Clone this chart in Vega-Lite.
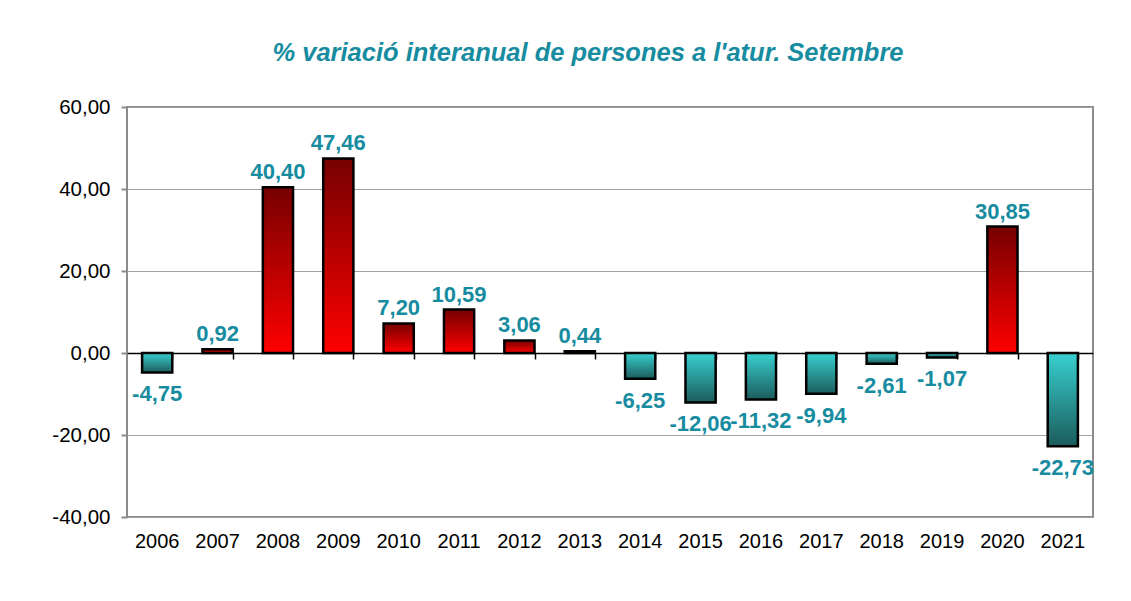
{
  "$schema": "https://vega.github.io/schema/vega-lite/v6.json",
  "width": 966,
  "height": 410,
  "autosize": {"type": "none"},
  "padding": {"left": 127, "top": 107, "right": 38, "bottom": 84},
  "background": "white",
  "title": {
    "text": "% variació interanual de persones a l'atur. Setembre",
    "font": "Liberation Sans",
    "fontSize": 25.5,
    "fontWeight": "bold",
    "fontStyle": "italic",
    "color": "#178CA0",
    "anchor": "middle",
    "dx": -22,
    "offset": 31
  },
  "config": {
    "locale": {
      "number": {"decimal": ",", "thousands": ".", "grouping": [3], "currency": ["", " €"], "minus": "-"}
    },
    "view": {"stroke": "#8c8c8c", "strokeWidth": 2},
    "font": "Liberation Sans"
  },
  "data": {
    "values": [
      {"year": "2006", "v": -4.75},
      {"year": "2007", "v": 0.92},
      {"year": "2008", "v": 40.40},
      {"year": "2009", "v": 47.46},
      {"year": "2010", "v": 7.20},
      {"year": "2011", "v": 10.59},
      {"year": "2012", "v": 3.06},
      {"year": "2013", "v": 0.44},
      {"year": "2014", "v": -6.25},
      {"year": "2015", "v": -12.06},
      {"year": "2016", "v": -11.32},
      {"year": "2017", "v": -9.94},
      {"year": "2018", "v": -2.61},
      {"year": "2019", "v": -1.07},
      {"year": "2020", "v": 30.85},
      {"year": "2021", "v": -22.73}
    ]
  },
  "encoding": {
    "x": {
      "field": "year",
      "type": "ordinal",
      "scale": {"paddingInner": 0.5, "paddingOuter": 0.25}
    },
    "y": {
      "field": "v",
      "type": "quantitative",
      "scale": {"domain": [-40, 60], "nice": false, "zero": false}
    }
  },
  "layer": [
    {
      "mark": {"type": "bar", "stroke": "black", "strokeWidth": 2.5, "opacity": 0},
      "encoding": {
        "x": {
          "field": "year", "type": "ordinal",
          "axis": {
            "title": null, "orient": "bottom", "domain": false, "ticks": false,
            "labelFontSize": 20, "labelColor": "black", "labelPadding": 14,
            "labelAngle": 0, "labelFont": "Liberation Sans"
          }
        },
        "y": {
          "field": "v", "type": "quantitative",
          "axis": {
            "title": null, "values": [-40, -20, 0, 20, 40, 60],
            "format": ".2f", "labelFontSize": 20.5, "labelColor": "black",
            "labelFont": "Liberation Sans",
            "domain": false, "tickColor": "#8c8c8c", "tickSize": 6, "tickWidth": 2,
            "labelPadding": 11, "gridColor": "#a0a0a0", "gridWidth": 1.2
          }
        }
      }
    },
    {
      "transform": [{"filter": "datum.v > 0"}],
      "mark": {
        "type": "bar", "stroke": "black", "strokeWidth": 2.5,
        "color": {
          "gradient": "linear", "x1": 0, "y1": 0, "x2": 0, "y2": 1,
          "stops": [{"offset": 0, "color": "#760000"}, {"offset": 1, "color": "#ff0000"}]
        }
      },
      "encoding": {
        "x": {"field": "year", "type": "ordinal", "axis": null}
      }
    },
    {
      "transform": [{"filter": "datum.v < 0"}],
      "mark": {
        "type": "bar", "stroke": "black", "strokeWidth": 2.5,
        "color": {
          "gradient": "linear", "x1": 0, "y1": 0, "x2": 0, "y2": 1,
          "stops": [{"offset": 0, "color": "#38d0d0"}, {"offset": 1, "color": "#1c5c5c"}]
        }
      },
      "encoding": {
        "x": {"field": "year", "type": "ordinal", "axis": null}
      }
    },
    {
      "mark": {"type": "bar", "opacity": 0},
      "encoding": {
        "x": {
          "field": "year", "type": "ordinal",
          "axis": {
            "title": null, "orient": "bottom", "offset": -164, "labels": false,
            "domain": true, "domainColor": "black", "domainWidth": 1.5,
            "ticks": true, "tickColor": "black", "tickWidth": 1.5, "tickSize": 6,
            "tickBand": "extent", "grid": false
          }
        }
      }
    },
    {
      "transform": [{"filter": "datum.v > 0"}],
      "mark": {
        "type": "text", "font": "Liberation Sans", "fontSize": 22, "fontWeight": "bold",
        "color": "#178CA0", "baseline": "alphabetic", "dy": -8
      },
      "encoding": {
        "x": {"field": "year", "type": "ordinal", "axis": null},
        "text": {"field": "v", "type": "quantitative", "format": ".2f"}
      }
    },
    {
      "transform": [{"filter": "datum.v < 0"}],
      "mark": {
        "type": "text", "font": "Liberation Sans", "fontSize": 22, "fontWeight": "bold",
        "color": "#178CA0", "baseline": "alphabetic", "dy": 29
      },
      "encoding": {
        "x": {"field": "year", "type": "ordinal", "axis": null},
        "text": {"field": "v", "type": "quantitative", "format": ".2f"}
      }
    }
  ],
  "resolve": {"axis": {"x": "independent"}}
}
